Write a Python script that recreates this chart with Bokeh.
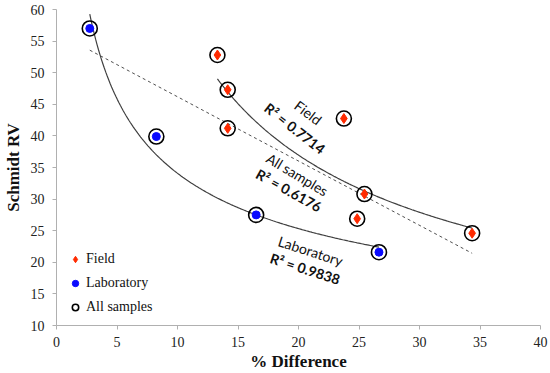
import numpy as np
from bokeh.plotting import figure
from bokeh.models import Range1d, SingleIntervalTicker, Legend, LegendItem, ColumnDataSource
from bokeh.core.properties import value
from bokeh.embed import file_html
from bokeh.resources import INLINE

# Data
field_x = [13.3, 14.15, 14.15, 23.75, 25.45, 24.85, 34.35]
field_y = [52.8, 47.3, 41.2, 42.75, 30.8, 26.9, 24.6]
lab_x = [2.75, 8.25, 16.5, 26.65]
lab_y = [57.0, 39.9, 27.5, 21.6]

x_ticks_interval = 5
annot_text = ["Field", "All samples", "Laboratory"]
annot_x = [20.8, 19.9, 21.0]
annot_y = [43.7, 33.9, 21.8]
annot_angle = [-37, -31, -18]
r2_text = ["R\u00b2 = 0.7714", "R\u00b2 = 0.6176", "R\u00b2 = 0.9838"]
r2_x = [19.7, 19.2, 20.55]
r2_y = [41.2, 31.4, 19.0]
r2_angle = [-38, -29, -18]

all_x = field_x + lab_x
all_y = field_y + lab_y

def power_fit(xs, ys):
    b, lna = np.polyfit(np.log(xs), np.log(ys), 1)
    xx = np.linspace(min(xs), max(xs), 200)
    return xx, np.exp(lna) * xx ** b

fx, fy = power_fit(field_x, field_y)
lx, ly = power_fit(lab_x, lab_y)
m, c = np.polyfit(all_x, all_y, 1)
ax_ = np.array([min(all_x), max(all_x)])
ay_ = m * ax_ + c

p = figure(width=550, height=373, output_backend="svg", toolbar_location=None,
           x_range=Range1d(0, 40), y_range=Range1d(10, 60),
           min_border_left=54, min_border_right=10, min_border_top=9, min_border_bottom=48)
p.xgrid.visible = False
p.ygrid.visible = False
p.outline_line_color = None

serif = "Liberation Serif"
for axis in (p.xaxis[0], p.yaxis[0]):
    axis.ticker = SingleIntervalTicker(interval=x_ticks_interval, num_minor_ticks=0)
    axis.axis_line_color = "#b0b0b0"
    axis.major_tick_line_color = "#b0b0b0"
    axis.minor_tick_line_color = None
    axis.major_tick_out = 4
    axis.major_tick_in = 0
    axis.major_label_text_font = serif
    axis.major_label_text_font_size = "14px"
    axis.major_label_text_color = "#222222"
    axis.axis_label_text_font = serif
    axis.axis_label_text_font_size = "17px"
    axis.axis_label_text_font_style = "bold"
    axis.axis_label_text_color = "#111111"
p.xaxis.axis_label = "% Difference"
p.yaxis.axis_label = "Schmidt RV"
p.xaxis.major_label_standoff = 7
p.yaxis.major_label_standoff = 8
p.xaxis.axis_label_standoff = 2
p.yaxis.axis_label_standoff = 5

# trend lines
p.line(fx, fy, line_color="#404040", line_width=1.2)
p.line(lx, ly, line_color="#404040", line_width=1.2)
p.line(ax_, ay_, line_color="#505050", line_width=1, line_dash="3 3")

r_all = p.scatter(all_x, all_y, marker="circle", size=15, fill_color=None,
                  line_color="black", line_width=1.6)
r_field = p.scatter(field_x, field_y, marker="diamond", size=10, fill_color="#ff2a00",
                    line_color="#ff2a00")
r_lab = p.scatter(lab_x, lab_y, marker="circle", size=8, fill_color="#0a0aff",
                  line_color="#0a0aff")

src1 = ColumnDataSource(dict(x=annot_x, y=annot_y, t=annot_text, a=annot_angle))
p.text("x", "y", text="t", angle="a", angle_units="deg", source=src1,
       text_font=value("Lato"), text_font_size="14px", text_align="center",
       text_baseline="middle", text_color="#111111")
src2 = ColumnDataSource(dict(x=r2_x, y=r2_y, t=r2_text, a=r2_angle))
p.text("x", "y", text="t", angle="a", angle_units="deg", source=src2,
       text_font=value("Lato"), text_font_size="14px", text_font_style="bold",
       text_align="center", text_baseline="middle", text_color="#111111")

legend = Legend(items=[LegendItem(label="Field", renderers=[r_field]),
                       LegendItem(label="Laboratory", renderers=[r_lab]),
                       LegendItem(label="All samples", renderers=[r_all])],
                location=(11, 8))
legend.border_line_color = None
legend.background_fill_alpha = 0
legend.padding = 0
legend.margin = 0
legend.glyph_width = 16
legend.label_standoff = 3
legend.spacing = 4
legend.label_text_font = serif
legend.label_text_font_size = "14px"
legend.label_text_color = "#111111"
p.add_layout(legend)

open("out.html", "w").write(file_html(p, INLINE))
